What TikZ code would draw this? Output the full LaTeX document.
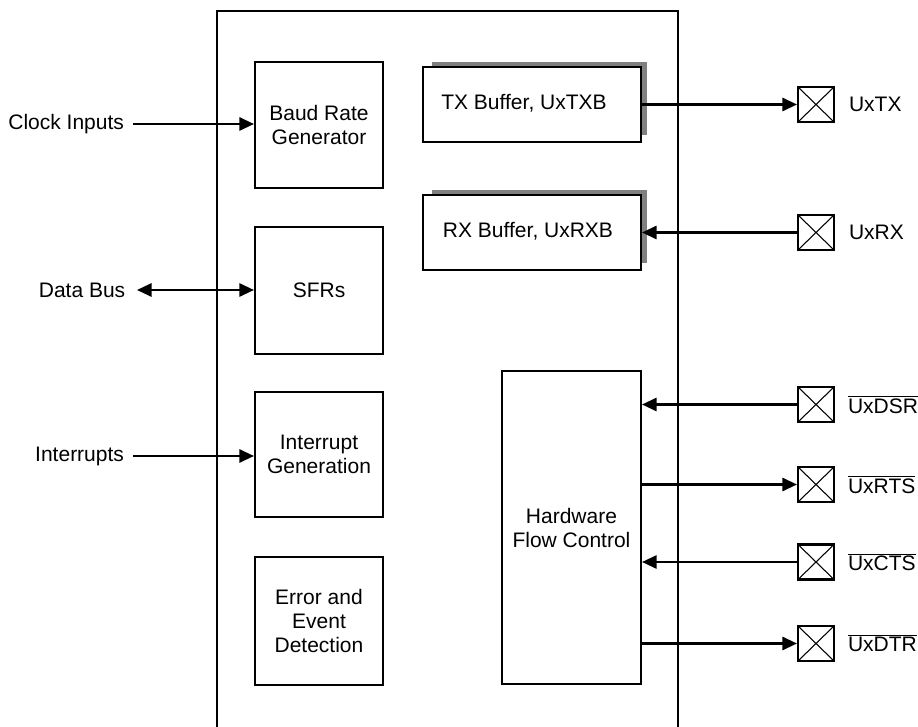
\documentclass[tikz,border=0pt]{standalone}
\usepackage{fontspec}
\setmainfont{Liberation Sans}
\usetikzlibrary{arrows.meta}
\definecolor{shadowgray}{HTML}{808080}
\begin{document}
\begin{tikzpicture}[x=0.75pt,y=-0.75pt, line width=1.6pt,
  font=\fontsize{15.75}{18}\selectfont,
  blk/.style={draw, fill=white, align=center, inner sep=0pt},
  pad/.style={draw, fill=white, minimum width=27pt, minimum height=26.25pt, inner sep=0pt,
    path picture={\draw[line width=0.8pt] (path picture bounding box.north west) -- (path picture bounding box.south east)
      (path picture bounding box.south west) -- (path picture bounding box.north east);}},
  sig/.style={-{Triangle[length=11pt,width=10pt]}},
  bisig/.style={{Triangle[length=11pt,width=10pt]}-{Triangle[length=11pt,width=10pt]}},
  padlbl/.style={anchor=west, inner sep=0pt},
  inlbl/.style={anchor=east, inner xsep=6pt, inner ysep=0pt}]

\useasboundingbox (0,0) rectangle (918,727);
\draw (217,727) -- (217,11) -- (678,11) -- (678,727);

% left blocks
\node[blk, minimum width=96pt, minimum height=94.5pt] (brg) at (319,125) {Baud Rate\\Generator};
\node[blk, minimum width=96pt, minimum height=95.25pt] (sfr) at (319,290.5) {SFRs};
\node[blk, minimum width=96pt, minimum height=93.75pt] (intg) at (319,454.5) {Interrupt\\Generation};
\node[blk, minimum width=96pt, minimum height=96pt] (err) at (319,621) {Error and\\Event\\Detection};

% buffers with shadows
\fill[shadowgray] (432,62) rectangle (647,135);
\node[blk, minimum width=163.5pt, minimum height=56.25pt] (tx) at (532,104.5) {};
\node[inner sep=0pt] (txl) at (524,103) {TX Buffer, UxTXB};
\fill[shadowgray] (432,190) rectangle (647,263);
\node[blk, minimum width=163.5pt, minimum height=56.25pt] (rx) at (532,232.5) {};
\node[inner sep=0pt] (rxl) at (528,231) {RX Buffer, UxRXB};

% flow control
\node[blk, minimum width=104.25pt, minimum height=234.75pt] (hfc) at (571.5,527.5) {Hardware\\Flow Control};

% pads
\node[pad] (ptx) at (816,104.5) {};
\node[pad] (prx) at (816,232.5) {};
\node[pad] (pdsr) at (816,404.5) {};
\node[pad] (prts) at (816,484.5) {};
\node[pad] (pcts) at (816,562) {};
\node[pad] (pdtr) at (816,643.5) {};

\node[padlbl] (ltx) at (848,104.5) {UxTX};
\node[padlbl] (lrx) at (848,232.5) {UxRX};
\node[padlbl] (ldsr) at (847,404.5) {$\overline{\mbox{UxDSR}}$};
\node[padlbl] (lrts) at (847,484.5) {$\overline{\mbox{UxRTS}}$};
\node[padlbl] (lcts) at (847,562) {$\overline{\mbox{UxCTS}}$};
\node[padlbl] (ldtr) at (847,643.5) {$\overline{\mbox{UxDTR}}$};

% left labels
\node[inlbl] (clk) at (133,124) {Clock Inputs};
\node[inlbl, inner xsep=8pt] (dbus) at (137,290) {Data Bus};
\node[inlbl] (irq) at (133,456) {Interrupts};

% connectors
\draw[sig] (clk.east) -- (clk.east -| brg.west);
\draw[bisig] (dbus.east) -- (dbus.east -| sfr.west);
\draw[sig] (irq.east) -- (irq.east -| intg.west);

\draw[sig] (tx.east) -- (ptx.west);
\draw[sig] (prx.west) -- (rx.east);
\draw[sig] (pdsr.west) -- (pdsr.west -| hfc.east);
\draw[sig] (prts.west -| hfc.east) -- (prts.west);
\draw[sig] (pcts.west) -- (pcts.west -| hfc.east);
\draw[sig] (pdtr.west -| hfc.east) -- (pdtr.west);
\end{tikzpicture}
\end{document}
